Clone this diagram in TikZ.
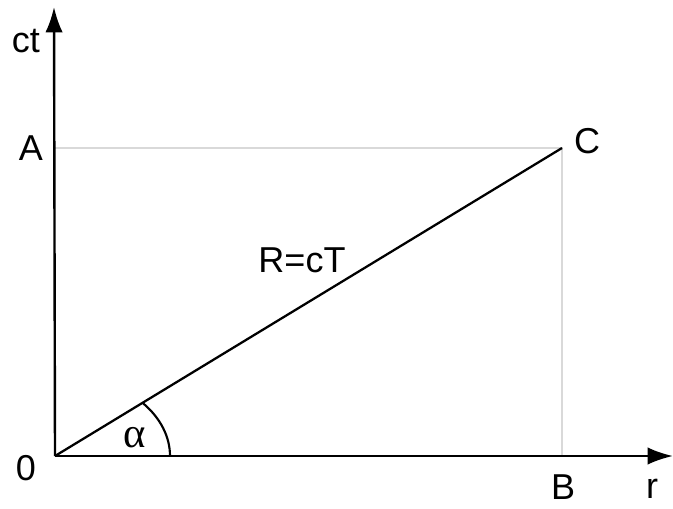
\documentclass[tikz,border=0pt]{standalone}
\usepackage{fontspec}
\setmainfont{Liberation Sans}
\newfontfamily\greekserif{Liberation Serif}
\usetikzlibrary{arrows.meta}
\begin{document}
\begin{tikzpicture}[x=0.75pt,y=0.75pt,
    every node/.style={inner sep=0pt,font=\fontsize{27}{31}\selectfont},
    axis/.style={line width=1.8pt,-{Latex[length=19pt,width=13pt]}},
    guide/.style={line width=2pt,gray!30}]
        \useasboundingbox (0,0) rectangle (673,508);
        \coordinate (O)    at (55,52);
        \coordinate (ytop) at (54,501);
        \coordinate (xend) at (673,52);
        \coordinate (A)    at (55,360);
        \coordinate (B)    at (562,52);
        \coordinate (C)    at (562,360);
        \draw[guide] (A)--(C)--(B);
        \draw[axis] (O)--(ytop);
        \draw[axis] (O)--(xend);
        \draw[line width=1.7pt] (O)--(C);
        \draw[line width=1.6pt] (O) ++(115,0) arc[start angle=0,end angle=40,x radius=115,y radius=82];
        \node (lct)  at (26,467) {ct};
        \node (lA)   at (31,360) {A};
        \node (lC)   at (587,367) {C};
        \node (l0)   at (26,40) {0};
        \node (lB)   at (563,21) {B};
        \node (lr)   at (652,19) {r};
        \node (lR)   at (302,248) {R=cT};
        \node (lalp) at (135,70) {\greekserif\fontsize{32}{36}\selectfont α};
    \end{tikzpicture}
\end{document}
